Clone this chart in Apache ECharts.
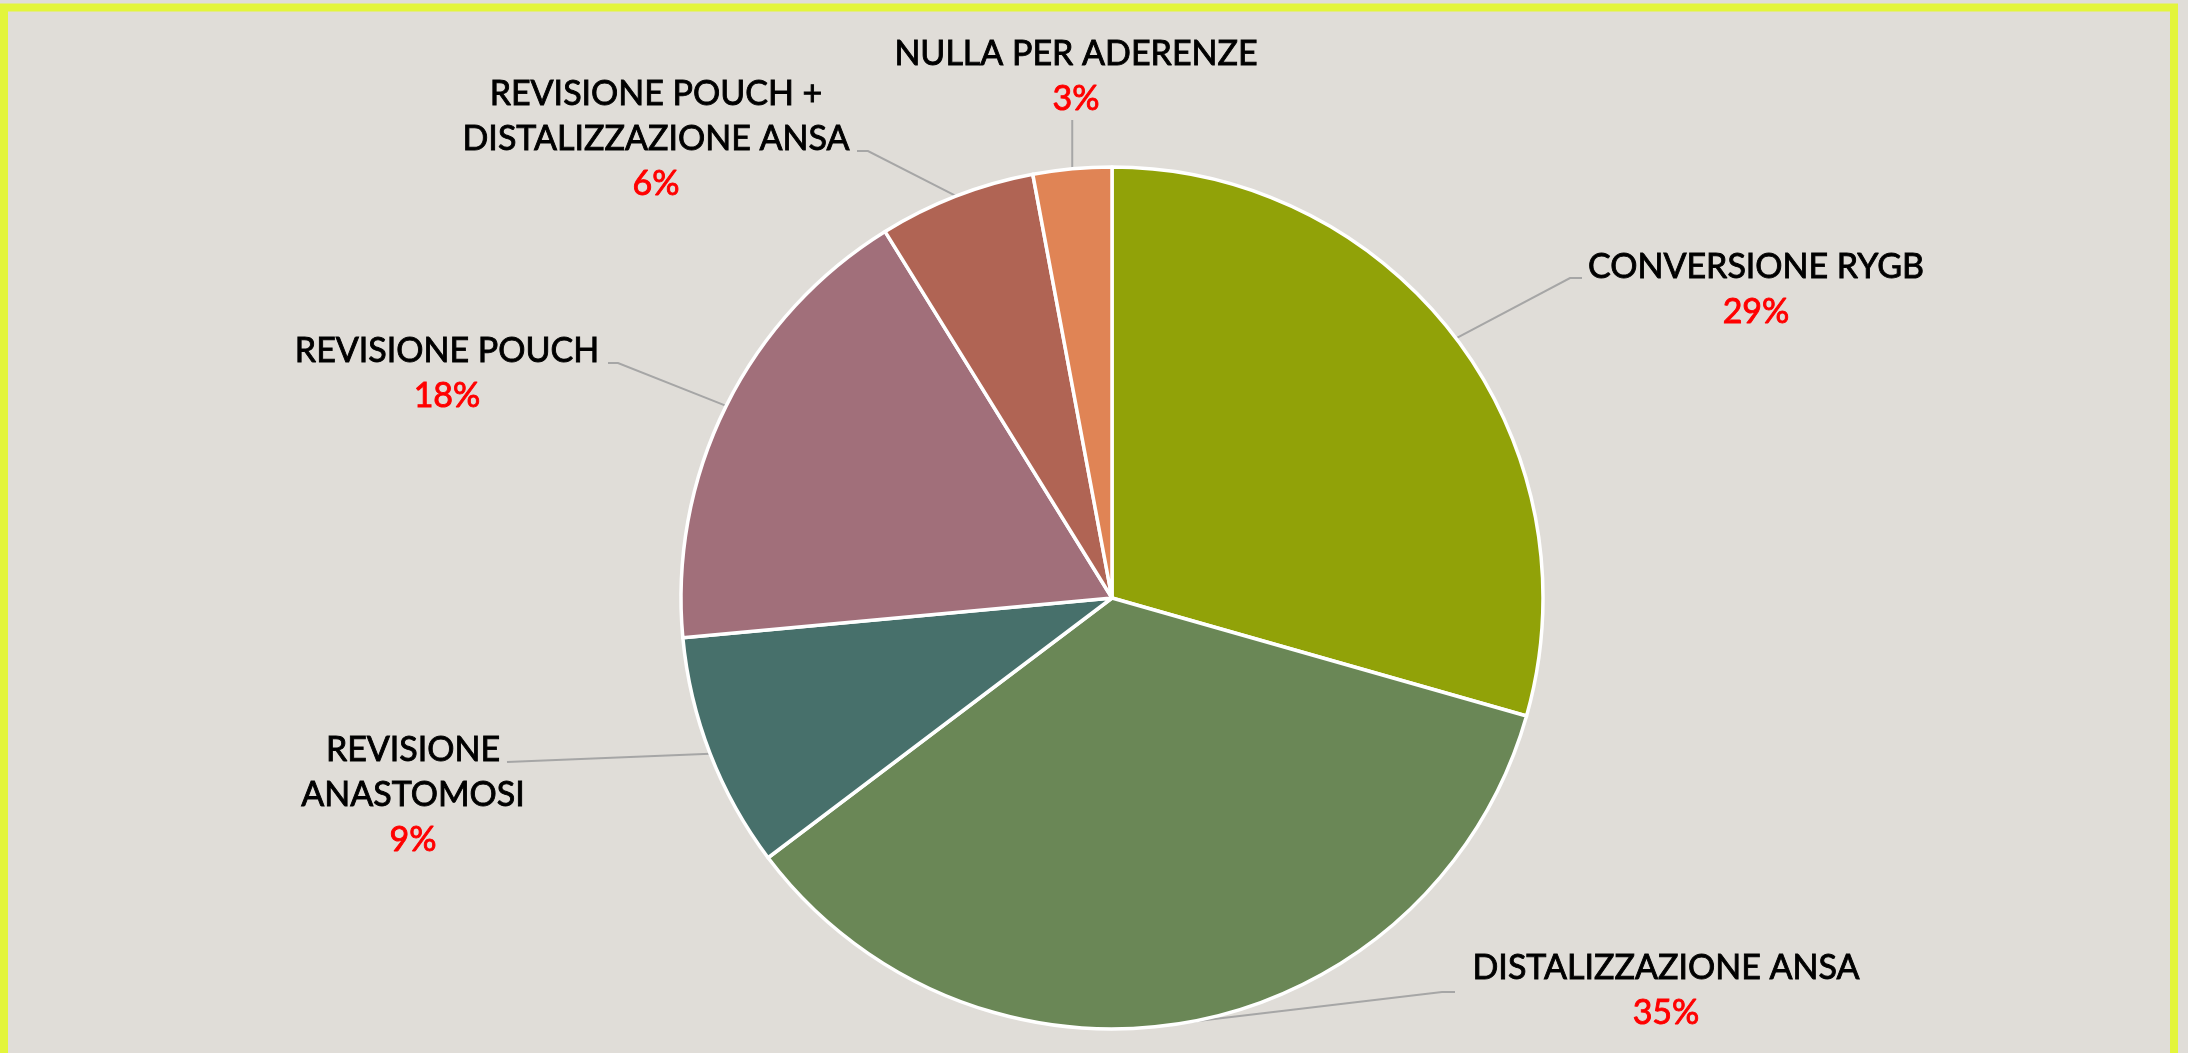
<!DOCTYPE html>
<html>
<head>
<meta charset="utf-8">
<script src="https://cdn.jsdelivr.net/npm/echarts@6/dist/echarts.min.js"></script>
<style>
  html, body { margin: 0; padding: 0; background: #e0ddd8; }
  #chart { width: 2188px; height: 1053px; }
</style>
</head>
<body>
<div id="chart"></div>
<script>
const categories = [
  'CONVERSIONE RYGB',
  'DISTALIZZAZIONE ANSA',
  'REVISIONE\nANASTOMOSI',
  'REVISIONE POUCH',
  'REVISIONE POUCH +\nDISTALIZZAZIONE ANSA',
  'NULLA PER ADERENZE'
]
const counts = [10, 12, 3, 6, 2, 1]
const colors = ['#91a208', '#6a8756', '#47706b', '#a16f7a', '#b06454', '#e08455']

// where each label sits (centre x, top y) and where its leader line ends
const labelSpots = [
  { x: 1756, y: 245, end: [1582, 278], bend: -12 },
  { x: 1666, y: 946, end: [1455, 992], bend: -13 },
  { x: 413, y: 728, end: [507, 762], bend: 0 },
  { x: 447, y: 329, end: [608, 363], bend: 10 },
  { x: 656, y: 72, end: [857, 151], bend: 11 },
  { x: 1076, y: 32, end: [null, 120], bend: 0 }
]

const chart = echarts.init(document.getElementById('chart'))

const option = {
  backgroundColor: '#e0ddd8',
  animation: false,
  graphic: [
    {
      type: 'rect',
      z: 100,
      shape: { x: 4, y: 7.5, width: 2170, height: 1100 },
      style: { fill: 'none', stroke: '#e3f53b', lineWidth: 8 }
    }
  ],
  series: [
    {
      type: 'pie',
      center: [1112, 598],
      radius: 431,
      startAngle: 90,
      clockwise: true,
      avoidLabelOverlap: false,
      data: categories.map((name, i) => ({
        name: name,
        value: counts[i],
        itemStyle: { color: colors[i] }
      })),
      itemStyle: { borderColor: '#ffffff', borderWidth: 3.5 },
      label: {
        show: true,
        position: 'outside',
        fontFamily: 'Lato',
        formatter: (p) => '{n|' + p.name + '}\n{p|' + Math.round(p.percent) + '%}',
        rich: {
          n: {
            fontFamily: 'Lato', fontSize: 34, lineHeight: 45, color: '#000000', align: 'center',
            textBorderColor: '#000000', textBorderWidth: 0.9
          },
          p: {
            fontFamily: 'Lato', fontSize: 34, lineHeight: 45, color: '#ff0000', align: 'center',
            textBorderColor: '#ff0000', textBorderWidth: 0.9
          }
        }
      },
      labelLine: {
        show: true,
        length: 40,
        length2: 15,
        lineStyle: { color: '#a6a6a6', width: 2 }
      },
      labelLayout: (params) => {
        const s = labelSpots[params.dataIndex]
        const p0 = params.labelLinePoints ? params.labelLinePoints[0] : [s.x, s.y]
        const ex = s.end[0] === null ? p0[0] : s.end[0]
        const end = [ex, s.end[1]]
        const bend = [ex + s.bend, s.end[1]]
        return {
          x: s.x,
          y: s.y,
          align: 'center',
          verticalAlign: 'top',
          labelLinePoints: [p0, bend, end]
        }
      }
    }
  ]
}

chart.setOption(option)
</script>
</body>
</html>
